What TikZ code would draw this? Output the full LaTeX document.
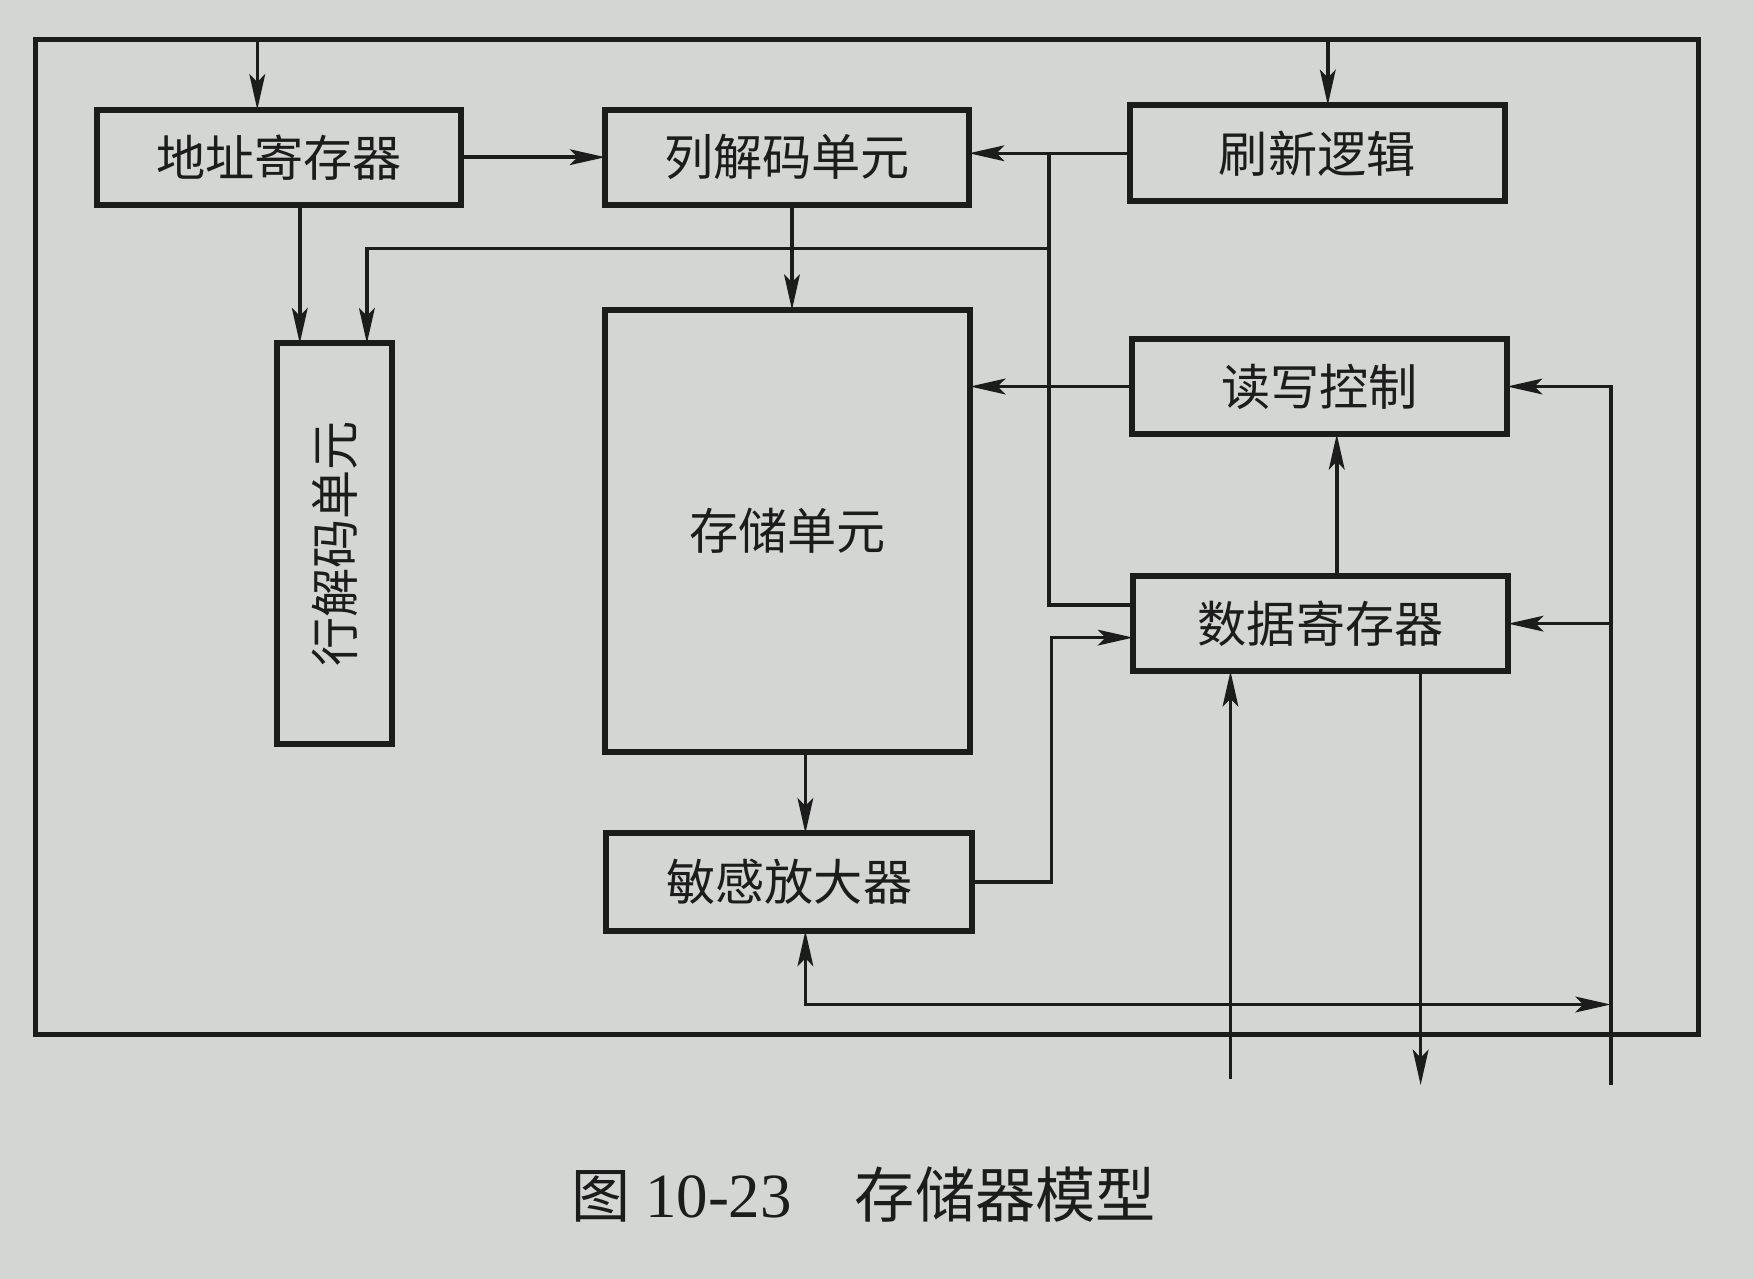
\documentclass[tikz,border=0pt]{standalone}
\usepackage{fontspec}
\setmainfont{Liberation Serif}
\newfontfamily\cjk{Noto Sans CJK SC}
\usetikzlibrary{arrows.meta,calc}
\definecolor{paper}{RGB}{212,214,212}
\definecolor{ink}{RGB}{28,28,28}
\begin{document}
\begin{tikzpicture}[x=0.01cm,y=-0.01cm,
  box/.style={draw=ink,line width=1.5pt,inner sep=0pt,outer sep=0pt,anchor=north west,
    font=\cjk\fontsize{12.5pt}{14pt}\selectfont,text=ink},
  conn/.style={draw=ink,line width=0.9pt},
  tip/.tip={Stealth[length=9pt,width=4pt,inset=2pt]},
  arr/.style={conn,-tip},
  biarr/.style={conn,tip-tip},
  frameline/.style={draw=ink,line width=1.3pt}]
\fill[paper] (0,0) rectangle (1568,1143);
\useasboundingbox (0,0) rectangle (1568,1143);
% outer frame
\draw[frameline] (32,35) rectangle (1518,925);
% boxes
\node[box,minimum width=3.25cm,minimum height=0.85cm] (addr) at (87,98) {地址寄存器};
\node[box,minimum width=3.25cm,minimum height=0.85cm] (col) at (541,98) {列解码单元};
\node[box,minimum width=3.35cm,minimum height=0.86cm] (ref) at (1010,94) {刷新逻辑};
\node[box,minimum width=1.02cm,minimum height=3.58cm] (row) at (248,307) {};
\node[rotate=90,inner sep=0pt,font=\cjk\fontsize{12.5pt}{14pt}\selectfont,text=ink] (rowlabel) at (row.center) {行解码单元};
\node[box,minimum width=3.26cm,minimum height=3.95cm] (mem) at (541,277) {存储单元};
\node[box,minimum width=3.35cm,minimum height=0.85cm] (rw) at (1012,303) {读写控制};
\node[box,minimum width=3.35cm,minimum height=0.85cm] (data) at (1013,515) {数据寄存器};
\node[box,minimum width=3.27cm,minimum height=0.87cm] (sense) at (542,745) {敏感放大器};
% track coordinates
\coordinate (t1) at (230,35);
\coordinate (t2) at (1187,35);
\coordinate (x268) at (268,0);
\coordinate (x328) at (328,0);
\coordinate (x708) at (708,0);
\coordinate (x720) at (720,0);
\coordinate (xj) at (938,0);
\coordinate (x940) at (940,0);
\coordinate (x1195) at (1195,0);
\coordinate (p222) at (0,222);
\coordinate (p541) at (0,541);
\coordinate (p570) at (0,570);
\coordinate (p898) at (0,898);
\coordinate (bb) at (1440,970);
\coordinate (in1) at (1100,965);
\coordinate (out1) at (1270,970);
% connectors
\draw[arr] (t1) -- (addr.north -| t1);
\draw[arr] (t2) -- (ref.north -| t2);
\draw[arr] (addr.east) -- (addr.east -| col.west);
\draw[arr] (addr.south -| x268) -- (row.north -| x268);
\draw[arr] (ref.west) -- (ref.west -| col.east);
\draw[conn] (ref.west -| xj) -- (xj |- p541) -- (data.west |- p541);
\draw[arr] (xj |- p222) -- (x328 |- p222) -- (row.north -| x328);
\draw[arr] (col.south -| x708) -- (mem.north -| x708);
\draw[arr] (rw.west) -- (rw.west -| mem.east);
\draw[arr] (data.north -| x1195) -- (rw.south -| x1195);
\draw[arr] (bb) -- (bb |- rw.east) -- (rw.east);
\draw[arr] (bb |- data.east) -- (data.east);
\draw[biarr] (sense.south -| x720) -- (x720 |- p898) -- (bb |- p898);
\draw[arr] (mem.south -| x720) -- (sense.north -| x720);
\draw[arr] (sense.east) -- (x940 |- sense.east) -- (x940 |- p570) -- (data.west |- p570);
\draw[arr] (in1) -- (data.south -| in1);
\draw[arr] (data.south -| out1) -- (out1);
% caption
\node[text=ink,inner sep=0pt] (cap) at (772,1068)
  {\cjk\fontsize{15pt}{18pt}\selectfont 图\hspace{0.25em}\rmfamily\fontsize{16pt}{18pt}\selectfont 10-23\hspace{1em}\cjk\fontsize{15.3pt}{18pt}\selectfont 存储器模型};
\end{tikzpicture}
\end{document}
